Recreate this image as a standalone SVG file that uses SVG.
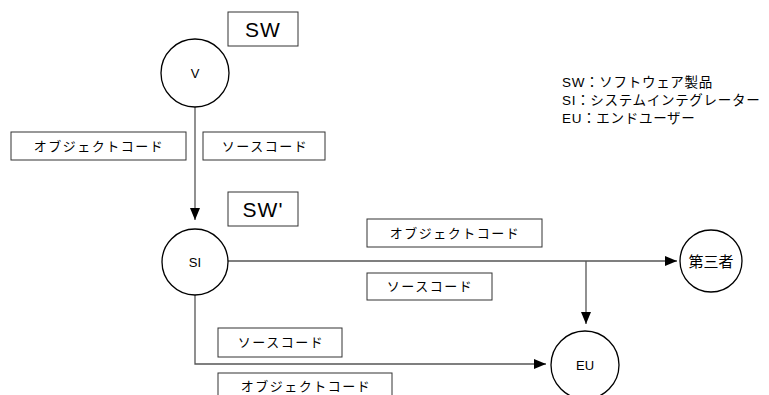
<svg xmlns="http://www.w3.org/2000/svg" width="769" height="395" viewBox="0 0 769 395">
<style>
.box{fill:#fff;stroke:#333;stroke-width:1}
.node{fill:#fff;stroke:#000;stroke-width:1.3}
.ln{fill:none;stroke:#555;stroke-width:1.3}
.lbl{font-family:"Liberation Sans","Noto Sans CJK JP",sans-serif;font-size:13px;letter-spacing:1.5px;fill:#000;text-anchor:middle}
.big{font-family:"Liberation Sans","Noto Sans CJK JP",sans-serif;font-size:21px;letter-spacing:1px;fill:#000;text-anchor:middle}
.nt{font-family:"Liberation Sans","Noto Sans CJK JP",sans-serif;font-size:13px;fill:#000;text-anchor:middle}
.leg{font-family:"Liberation Sans","Noto Sans CJK JP",sans-serif;font-size:13.5px;letter-spacing:0.7px;fill:#000}
</style>
<defs>
<marker id="arr" viewBox="0 0 12 10" refX="12" refY="5" markerWidth="12" markerHeight="10" markerUnits="userSpaceOnUse" orient="auto">
<path d="M0,0 L12,5 L0,10 z" fill="#000"/>
</marker>
</defs>
<rect x="0" y="0" width="769" height="395" fill="#fff"/>
<g id="connectors">
<line class="ln" x1="195" y1="107" x2="195" y2="220" marker-end="url(#arr)"/>
<line class="ln" x1="228" y1="261" x2="677" y2="261" marker-end="url(#arr)"/>
<line class="ln" x1="586" y1="261" x2="586" y2="324" marker-end="url(#arr)"/>
<polyline class="ln" points="195,295 195,364 546,364" marker-end="url(#arr)"/>
</g>
<g id="label-sw">
<rect class="box" x="228" y="12" width="70" height="34"/>
<text class="big" x="263" y="37">SW</text>
</g>
<g id="label-swp">
<rect class="box" x="228" y="192" width="70" height="34"/>
<text class="big" x="263" y="217">SW'</text>
</g>
<g id="node-v">
<circle class="node" cx="195" cy="73" r="34"/>
<text class="nt" x="195" y="78">V</text>
</g>
<g id="node-si">
<circle class="node" cx="195" cy="262" r="33"/>
<text class="nt" x="195" y="267">SI</text>
</g>
<g id="node-third">
<circle class="node" cx="711" cy="261" r="31"/>
<text class="nt" x="711" y="267" style="font-size:15px">第三者</text>
</g>
<g id="node-eu">
<circle class="node" cx="585" cy="365" r="34"/>
<text class="nt" x="585" y="370">EU</text>
</g>
<g id="box-obj1">
<rect class="box" x="11" y="132" width="175" height="28"/>
<text class="lbl" x="99" y="151">オブジェクトコード</text>
</g>
<g id="box-src1">
<rect class="box" x="203" y="132" width="122" height="28"/>
<text class="lbl" x="265" y="151">ソースコード</text>
</g>
<g id="box-obj2">
<rect class="box" x="367" y="219" width="175" height="28"/>
<text class="lbl" x="455" y="238">オブジェクトコード</text>
</g>
<g id="box-src2">
<rect class="box" x="367" y="273" width="125" height="27"/>
<text class="lbl" x="430" y="291">ソースコード</text>
</g>
<g id="box-src3">
<rect class="box" x="218" y="328" width="124" height="29"/>
<text class="lbl" x="281" y="347">ソースコード</text>
</g>
<g id="box-obj3">
<rect class="box" x="218" y="373" width="174" height="30"/>
<text class="lbl" x="306" y="391">オブジェクトコード</text>
</g>
<g id="legend">
<text class="leg" x="562" y="87">SW：ソフトウェア製品</text>
<text class="leg" x="562" y="105">SI：システムインテグレーター</text>
<text class="leg" x="562" y="123">EU：エンドユーザー</text>
</g>
</svg>
